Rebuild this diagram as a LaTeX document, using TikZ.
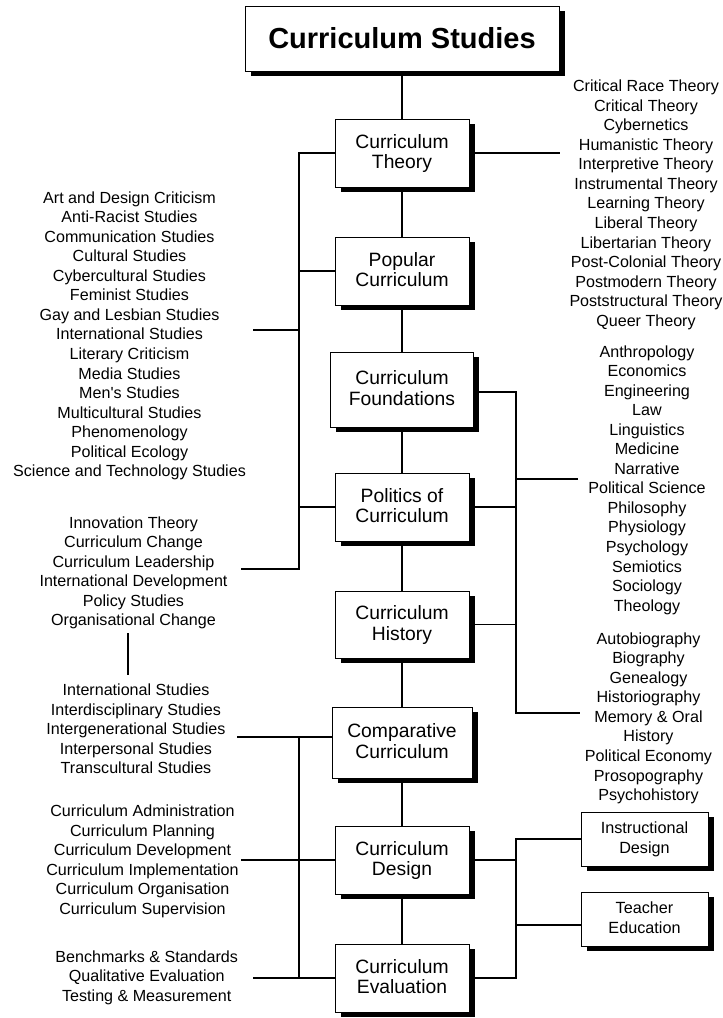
\documentclass[tikz,border=0pt]{standalone}
\usepackage{fontspec}
\setmainfont{Liberation Sans}
\usetikzlibrary{shadows}
\newcommand\lstfont{\fontsize{16.1}{19.55}\selectfont}
\newcommand\boxfont{\fontsize{19.3}{20.5}\selectfont}
\newcommand\smallboxfont{\fontsize{16.2}{20}\selectfont}
\newcommand\topstrut{\rule{0pt}{17.5pt}}
\begin{document}
\begin{tikzpicture}[x=1pt,y=-1pt,
  shadowed/.style={drop shadow={shadow xshift=5.5pt,shadow yshift=-4.5pt,fill=black,opacity=1}},
  box/.style={draw,line width=1pt,fill=white,align=center,inner sep=0pt,font=\boxfont,shadowed},
  sbox/.style={draw,line width=1pt,fill=white,align=center,inner sep=0pt,font=\smallboxfont,shadowed},
  lst/.style={align=center,inner sep=0pt,font=\lstfont},
  conn/.style={line width=1.1pt}]
\useasboundingbox (0,0) rectangle (723,1018);

% boxes
\node[box,minimum width=314pt,minimum height=65pt,font=\fontsize{29}{32}\selectfont\bfseries] (title) at (402,38.5) {Curriculum Studies};
\node[box,minimum width=134pt,minimum height=68pt] (theory) at (402,153) {\topstrut Curriculum\\Theory\strut};
\node[box,minimum width=134pt,minimum height=68pt] (popular) at (402,271) {\topstrut Popular\\Curriculum\strut};
\node[box,minimum width=143pt,minimum height=75pt] (found) at (402,389.5) {\topstrut Curriculum\\Foundations\strut};
\node[box,minimum width=134pt,minimum height=68pt] (politics) at (402,507) {\topstrut Politics of\\Curriculum\strut};
\node[box,minimum width=134pt,minimum height=67pt] (history) at (402,624.5) {\topstrut Curriculum\\History\strut};
\node[box,minimum width=140pt,minimum height=71pt] (comp) at (402,742.5) {\topstrut Comparative\\Curriculum\strut};
\node[box,minimum width=134pt,minimum height=68pt] (design) at (402,860) {\topstrut Curriculum\\Design\strut};
\node[box,minimum width=134pt,minimum height=68pt] (eval) at (402,978) {\topstrut Curriculum\\Evaluation\strut};
\node[sbox,minimum width=127pt,minimum height=54pt] (instr) at (644.5,839) {\strut Instructional\\Design\strut};
\node[sbox,minimum width=127pt,minimum height=54pt] (teacher) at (644.5,919) {\strut Teacher\\Education\strut};

% lists
\node[lst] (lr1) at (646,205) {\strut Critical Race Theory\\Critical Theory\\Cybernetics\\Humanistic Theory\\Interpretive Theory\\Instrumental Theory\\Learning Theory\\Liberal Theory\\Libertarian Theory\\Post-Colonial Theory\\Postmodern Theory\\Poststructural Theory\\Queer Theory\strut};
\node[lst] (ll1) at (129.5,336) {\strut Art and Design Criticism\\Anti-Racist Studies\\Communication Studies\\Cultural Studies\\Cybercultural Studies\\Feminist Studies\\Gay and Lesbian Studies\\International Studies\\Literary Criticism\\Media Studies\\Men\textquotesingle s Studies\\Multicultural Studies\\Phenomenology\\Political Ecology\\Science and Technology Studies\strut};
\node[lst] (ll2) at (133.5,573.2) {\strut Innovation Theory\\Curriculum Change\\Curriculum Leadership\\International Development\\Policy Studies\\Organisational Change\strut};
\node[lst] (lr2) at (647,480.2) {\strut Anthropology\\Economics\\Engineering\\Law\\Linguistics\\Medicine\\Narrative\\Political Science\\Philosophy\\Physiology\\Psychology\\Semiotics\\Sociology\\Theology\strut};
\node[lst] (lr3) at (648.5,718.5) {\strut Autobiography\\Biography\\Genealogy\\Historiography\\Memory \& Oral\\History\\Political Economy\\Prosopography\\Psychohistory\strut};
\node[lst] (ll3) at (136,730.7) {\strut International Studies\\Interdisciplinary Studies\\Intergenerational Studies\\Interpersonal Studies\\Transcultural Studies\strut};
\node[lst] (ll4) at (142.5,861.5) {\strut Curriculum Administration\\Curriculum Planning\\Curriculum Development\\Curriculum Implementation\\Curriculum Organisation\\Curriculum Supervision\strut};
\node[lst] (ll5) at (146.7,978) {\strut Benchmarks \& Standards\\Qualitative Evaluation\\Testing \& Measurement\strut};

% spine
\draw[conn] (title.south) -- (theory.north);
\draw[conn] (theory.south) -- (popular.north);
\draw[conn] (popular.south) -- (found.north);
\draw[conn] (found.south) -- (politics.north);
\draw[conn] (politics.south) -- (history.north);
\draw[conn] (history.south) -- (comp.north);
\draw[conn] (comp.south) -- (design.north);
\draw[conn] (design.south) -- (eval.north);

% left bracket 1
\coordinate (lb1bot) at (299,569);
\coordinate (lend1) at (241,569);
\coordinate (lend0) at (253,330);
\draw[conn] (theory.west) -| (lb1bot) -- (lend1);
\draw[conn] (popular.west) -- (popular.west -| lb1bot);
\draw[conn] (politics.west) -- (politics.west -| lb1bot);
\draw[conn] (lend0) -- (lend0 -| lb1bot);

% right of theory
\coordinate (rend0) at (560,153);
\draw[conn] (theory.east) -- (rend0);

% right bracket 1
\coordinate (rb1bot) at (516,713);
\coordinate (rend2) at (580,713);
\coordinate (rend1) at (578,479);
\draw[conn] ([yshift=-2.5pt]found.east) -| (rb1bot) -- (rend2);
\draw[conn] (politics.east) -- (politics.east -| rb1bot);
\draw[conn] (history.east) -- (history.east -| rb1bot);
\draw[conn] (rend1) -- (rend1 -| rb1bot);

% small vertical
\coordinate (v1) at (128,633);
\coordinate (v2) at (128,675);
\draw[conn] (v1) -- (v2);

% left bracket 2
\coordinate (lb2bot) at (299,978);
\coordinate (lend3) at (237,737);
\coordinate (lend4) at (241,860);
\coordinate (lend5) at (253,978);
\draw[conn] (lend3) -- ([yshift=5.5pt]comp.west);
\draw[conn] (lend3 -| lb2bot) -- (lb2bot);
\draw[conn] (lend4) -- (design.west);
\draw[conn] (lend5) -- (eval.west);

% right bracket 2
\coordinate (rb2bot) at (516,978);
\draw[conn] (instr.west) -| (rb2bot) -- (eval.east);
\draw[conn] (design.east) -- (design.east -| rb2bot);
\draw[conn] ([yshift=-6pt]teacher.west) -- ([yshift=-6pt]teacher.west -| rb2bot);
\end{tikzpicture}
\end{document}
